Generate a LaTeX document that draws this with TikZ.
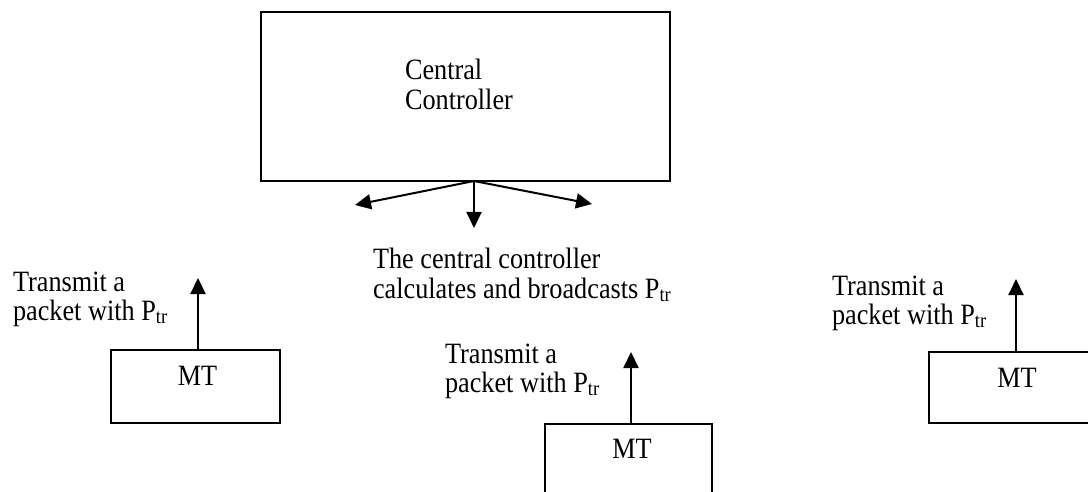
\documentclass[tikz,border=0pt]{standalone}
\usepackage{fontspec}
\setmainfont{Liberation Serif}[FakeStretch=0.89]
\usetikzlibrary{arrows.meta}
\newcommand{\Ptr}{P\textsubscript{tr}}
\newcommand{\lines}[1]{\begin{tabular}[t]{@{}l@{}}#1\end{tabular}}
\begin{document}
\begin{tikzpicture}[x=1pt,y=-1pt,
  every node/.style={inner sep=0pt, outer sep=0pt},
  box/.style={draw, line width=2pt},
  txt/.style={font=\fontsize{29.5}{28.5}\selectfont, anchor=base west},
  mtlabel/.style={font=\fontsize{29.5}{28.5}\selectfont, anchor=base},
  link/.style={line width=2pt, -{Triangle[length=16pt,width=15pt]}}]

% page area
\useasboundingbox (0,0) rectangle (1088,492);
\fill[white] (0,0) rectangle (1088,492);
\clip (0,0) rectangle (1088,492);

% central controller
\node[box, minimum width=409pt, minimum height=169pt] (cc) at (465.5,96.5) {};
\node[txt] (cctext) at (405,80) {\lines{Central\\Controller}};

% broadcast fan
\coordinate (fanL) at (355,205);
\coordinate (fanD) at (474,228);
\coordinate (fanR) at (592,204);
\draw[link] ([xshift=8.5pt]cc.south) -- (fanL);
\draw[link] ([xshift=8.5pt]cc.south) -- (fanD);
\draw[link] ([xshift=8.5pt]cc.south) -- (fanR);
\node[txt] (bcast) at (373,269) {\lines{The central controller\\calculates and broadcasts \Ptr}};

% mobile terminals
\node[box, minimum width=169pt, minimum height=73pt] (mt1) at (195.5,386.5) {};
\node[box, minimum width=167pt, minimum height=100pt] (mt2) at (628.5,474) {};
\node[box, minimum width=181pt, minimum height=71pt] (mt3) at (1019.5,387.5) {};
\node[mtlabel] (mt1l) at (197.5,385) {MT};
\node[mtlabel] (mt2l) at (632,458) {MT};
\node[mtlabel] (mt3l) at (1017,387) {MT};

% uplink transmissions
\coordinate (up1) at (198,278);
\coordinate (up2) at (631,352);
\coordinate (up3) at (1016,279);
\draw[link] (mt1.north -| up1) -- (up1);
\draw[link] (mt2.north -| up2) -- (up2);
\draw[link] (mt3.north -| up3) -- (up3);
\node[txt] (tx1) at (13,291) {\lines{Transmit a\\packet with \Ptr}};
\node[txt] (tx2) at (445,363) {\lines{Transmit a\\packet with \Ptr}};
\node[txt] (tx3) at (832,295) {\lines{Transmit a\\packet with \Ptr}};
\end{tikzpicture}
\end{document}
